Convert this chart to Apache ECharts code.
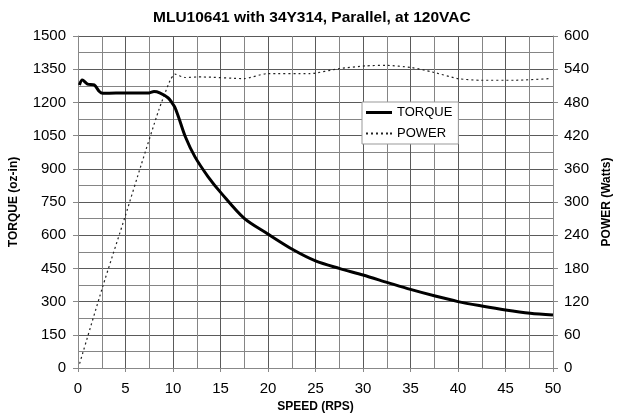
<!DOCTYPE html>
<html>
<head>
<meta charset="utf-8">
<script src="https://cdn.jsdelivr.net/npm/echarts@6/dist/echarts.min.js"></script>
<style>
html,body{margin:0;padding:0;background:#fff;}
#chart{width:621px;height:419px;}
</style>
</head>
<body>
<div id="chart"></div>
<script>
const titleText = 'MLU10641 with 34Y314, Parallel, at 120VAC';
const torqueSpeed = [0.15, 0.45, 1.0, 1.7, 2.25, 2.6, 4, 6, 7.5, 8.0, 8.6, 9.5, 9.9, 10.2, 10.6, 11.3, 12.3, 13.7, 15.1, 17.5, 19.9, 22.7, 25.0, 27.5, 30.0, 32.6, 35.0, 37.6, 40.0, 42.5, 45.0, 47.6, 50.0];
const torqueValues = [1279, 1301, 1283, 1279, 1249, 1241, 1242, 1242, 1243, 1249, 1243, 1220, 1198, 1178, 1132, 1045, 955, 864, 789, 676, 608, 533, 484, 450, 420, 386, 355, 325, 300, 280, 262, 247, 239];
const powerSpeed = [0.17, 2.6, 5.0, 6.65, 8.5, 9.7, 10.2, 11.25, 12.6, 13, 17.5, 19.9, 24.4, 27.5, 30.3, 32.4, 35.1, 37.3, 40, 42.4, 45.9, 49.7];
const powerValues = [8, 147, 276, 367, 466, 520, 531, 525, 526, 526, 523, 532, 532, 541, 546, 547, 543, 535, 523, 520, 520, 523];
const xName = 'SPEED (RPS)';
const yLeftName = 'TORQUE (oz-in)';
const yRightName = 'POWER (Watts)';

const torqueData = torqueSpeed.map((s, i) => [s, torqueValues[i]]);
const powerData = powerSpeed.map((s, i) => [s, powerValues[i]]);

const FONT = '"Liberation Sans", Arial, sans-serif';
const gridColor = '#5a5a5a';
const minorColor = '#858585';
const plain = v => String(v);

const chart = echarts.init(document.getElementById('chart'), null, {renderer: 'canvas'});
chart.setOption({
  animation: false,
  backgroundColor: '#fff',
  title: {
    text: titleText, left: 148, top: 5,
    textStyle: {fontFamily: FONT, fontSize: 15.5, fontWeight: 'bold', color: '#000'}
  },
  legend: {
    left: 362, top: 102, orient: 'vertical',
    backgroundColor: '#fff', borderColor: '#999', borderWidth: 1,
    padding: [4, 6, 4, 4], itemGap: 8, itemWidth: 26, itemHeight: 3,
    textStyle: {fontFamily: FONT, fontSize: 13, color: '#000'},
    data: [
      {name: 'TORQUE', icon: 'path://M0,0h26v3h-26z'},
      {name: 'POWER', icon: 'path://M0,0h2v2h-2z M5,0h2v2h-2z M10,0h2v2h-2z M15,0h2v2h-2z M20,0h2v2h-2z M24,0h2v2h-2z'}
    ]
  },
  grid: {left: 75, right: 65, top: 36, bottom: 51},
  xAxis: {
    type: 'value', min: 0, max: 50, interval: 5,
    name: xName, nameLocation: 'middle', nameGap: 33,
    nameTextStyle: {fontFamily: FONT, fontSize: 12, fontWeight: 'bold', color: '#000'},
    axisLine: {show: true, lineStyle: {color: '#888'}},
    axisTick: {show: true, length: 4, lineStyle: {color: '#888'}},
    axisLabel: {fontFamily: FONT, fontSize: 15, color: '#000', margin: 13, formatter: plain},
    splitLine: {show: true, lineStyle: {color: gridColor, width: 1}},
    minorTick: {show: false, splitNumber: 2},
    minorSplitLine: {show: true, lineStyle: {color: minorColor, width: 1}}
  },
  yAxis: [{
    type: 'value', min: 0, max: 1500, interval: 150,
    name: yLeftName, nameLocation: 'middle', nameGap: 58,
    nameTextStyle: {fontFamily: FONT, fontSize: 12, fontWeight: 'bold', color: '#000'},
    axisLine: {show: true, lineStyle: {color: '#888'}},
    axisTick: {show: true, length: 5, lineStyle: {color: '#888'}},
    axisLabel: {fontFamily: FONT, fontSize: 15, color: '#000', margin: 12, formatter: plain},
    splitLine: {show: true, lineStyle: {color: gridColor, width: 1}},
    minorTick: {show: false, splitNumber: 2},
    minorSplitLine: {show: true, lineStyle: {color: minorColor, width: 1}}
  }, {
    type: 'value', min: 0, max: 600, interval: 60,
    name: yRightName, nameLocation: 'middle', nameGap: 48, nameRotate: 90,
    nameTextStyle: {fontFamily: FONT, fontSize: 12, fontWeight: 'bold', color: '#000'},
    axisLine: {show: true, lineStyle: {color: '#888'}},
    axisTick: {show: true, length: 5, lineStyle: {color: '#888'}},
    axisLabel: {fontFamily: FONT, fontSize: 15, color: '#000', margin: 11, formatter: plain},
    splitLine: {show: false}
  }],
  series: [{
    name: 'TORQUE', type: 'line', yAxisIndex: 0, data: torqueData,
    smooth: 0.3, symbol: 'none',
    lineStyle: {color: '#000', width: 3},
    itemStyle: {color: '#000'}, z: 5
  }, {
    name: 'POWER', type: 'line', yAxisIndex: 1, data: powerData,
    smooth: 0.2, symbol: 'none',
    lineStyle: {color: '#222', width: 1.2, type: [2, 3]},
    itemStyle: {color: '#222'}, z: 4
  }]
});
</script>
</body>
</html>
